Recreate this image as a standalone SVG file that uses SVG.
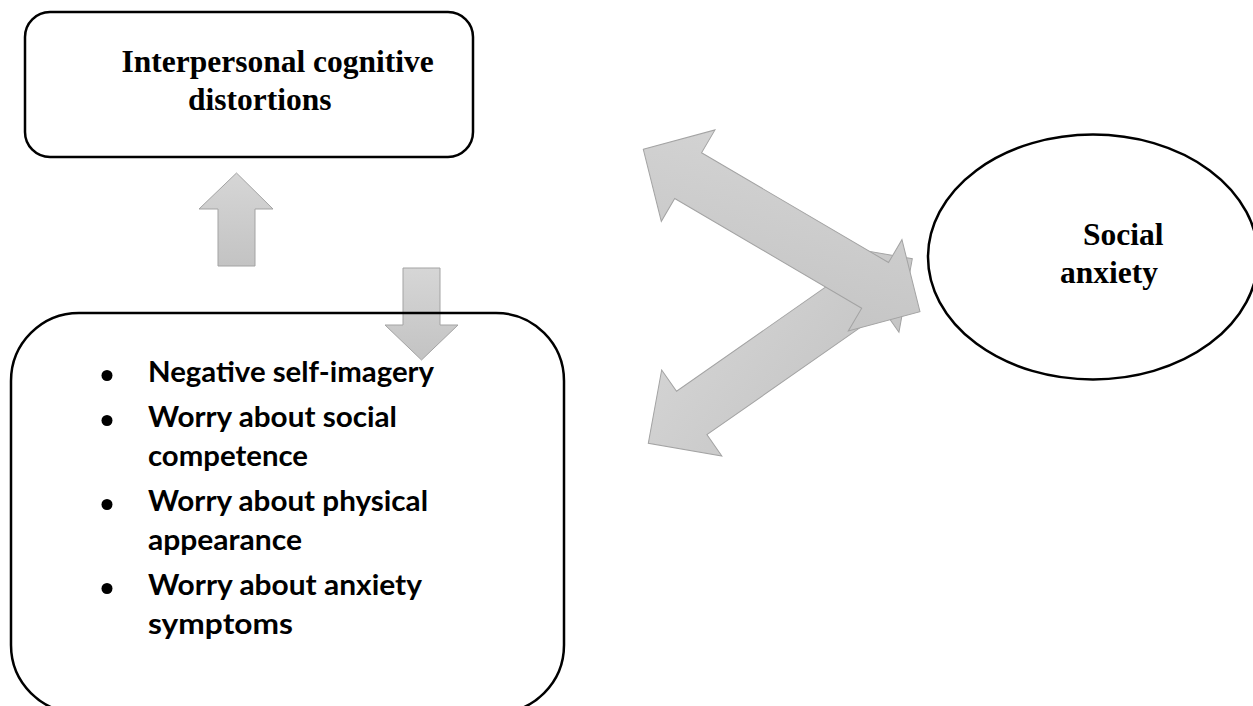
<svg xmlns="http://www.w3.org/2000/svg" width="1253" height="706" viewBox="0 0 1253 706">
  <defs>
    <linearGradient id="gFill" x1="0" y1="0" x2="0" y2="1">
      <stop offset="0" stop-color="#d6d6d6"/>
      <stop offset="1" stop-color="#c3c3c3"/>
    </linearGradient>
    <linearGradient id="gFillD" x1="0" y1="0" x2="1" y2="1">
      <stop offset="0" stop-color="#d4d4d4"/>
      <stop offset="1" stop-color="#c4c4c4"/>
    </linearGradient>
  </defs>
  <style>
    .node { fill: none; stroke: #000; stroke-width: 2.5; }
    .arrow { stroke: #a3a3a3; stroke-width: 1; stroke-linejoin: miter; }
    .serif { font-family: "Liberation Serif", "Times New Roman", serif; font-weight: bold; font-size: 31.5px; fill: #000; }
    .sans { font-family: Lato, "Open Sans", "Liberation Sans", sans-serif; font-weight: bold; font-size: 29px; fill: #000; }
    .dot { fill: #000; }
  </style>
  <rect width="1253" height="706" fill="#fff"/>

  <g id="connectors">
    <!-- up arrow -->
    <polygon class="arrow" fill="url(#gFill)" points="236.5,173 273,209 255,209 255,266 218,266 218,209 199,209"/>
    <!-- down arrow -->
    <polygon class="arrow" fill="url(#gFill)" points="403,268 440,268 440,325 458,325 421.5,360 385,325 403,325"/>
    <!-- double arrow B (lower-left to social anxiety) -->
    <polygon class="arrow" fill="url(#gFillD)" transform="translate(648.3,443.3) rotate(-34.95)" points="0,0 53,-52.5 53,-26.5 269.1,-26.5 269.1,-52.5 322.1,0 269.1,52.5 269.1,26.5 53,26.5 53,52.5"/>
    <!-- double arrow A (upper-left to social anxiety) -->
    <polygon class="arrow" fill="url(#gFillD)" transform="translate(643.3,149.3) rotate(30.41)" points="0,0 52,-53 52,-26.5 268.8,-26.5 268.8,-53 320.8,0 268.8,53 268.8,26.5 52,26.5 52,53"/>
  </g>

  <g id="node-distortions">
    <rect class="node" x="25" y="12" width="448" height="145" rx="25" ry="25"/>
    <text class="serif" x="121.5" y="72">Interpersonal cognitive</text>
    <text class="serif" x="188" y="110">distortions</text>
  </g>

  <g id="node-social-anxiety">
    <ellipse class="node" cx="1093" cy="257" rx="165" ry="122.5"/>
    <text class="serif" x="1083" y="245">Social</text>
    <text class="serif" x="1060" y="283">anxiety</text>
  </g>

  <g id="node-worries">
    <rect class="node" x="11" y="313" width="553" height="400" rx="68" ry="68"/>
    <circle class="dot" cx="107" cy="375.5" r="5.5"/>
    <circle class="dot" cx="107" cy="420.5" r="5.5"/>
    <circle class="dot" cx="107" cy="504.5" r="5.5"/>
    <circle class="dot" cx="107" cy="588.5" r="5.5"/>
    <text class="sans" x="148" y="382" textLength="286" lengthAdjust="spacingAndGlyphs">Negative self-imagery</text>
    <text class="sans" x="148" y="427" textLength="249" lengthAdjust="spacingAndGlyphs">Worry about social</text>
    <text class="sans" x="148" y="466" textLength="160" lengthAdjust="spacingAndGlyphs">competence</text>
    <text class="sans" x="148" y="511" textLength="280" lengthAdjust="spacingAndGlyphs">Worry about physical</text>
    <text class="sans" x="148" y="550" textLength="154" lengthAdjust="spacingAndGlyphs">appearance</text>
    <text class="sans" x="148" y="595" textLength="274" lengthAdjust="spacingAndGlyphs">Worry about anxiety</text>
    <text class="sans" x="148" y="634" textLength="145" lengthAdjust="spacingAndGlyphs">symptoms</text>
  </g>
</svg>
